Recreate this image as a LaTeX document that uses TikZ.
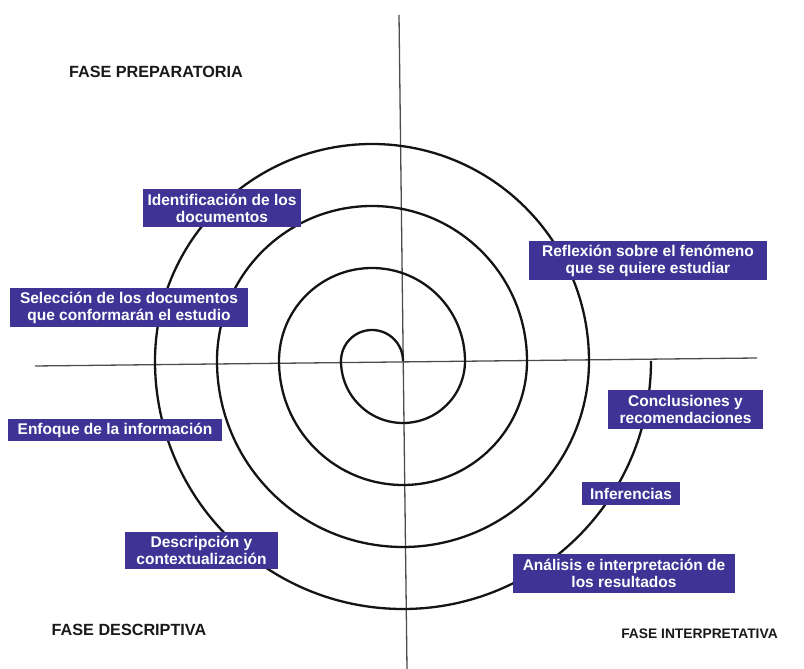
\documentclass[tikz,border=0pt]{standalone}
\usepackage{fontspec}
\setmainfont{Liberation Sans}
\definecolor{boxblue}{RGB}{63,52,150}
\begin{document}
\begin{tikzpicture}[x=1pt,y=1pt,
  lbl/.style={fill=boxblue, text=white, font=\fontsize{15.5}{17}\selectfont\bfseries, align=center, inner sep=0pt},
  phase/.style={font=\fontsize{16.2}{18}\selectfont\bfseries, text=black!90, inner sep=0pt},
  axis/.style={draw=black!70, line width=1.3pt},
  spiral/.style={draw=black!92, line width=2.3pt}]
\useasboundingbox (0,0) rectangle (804,669);
% axes
\coordinate (hl) at (35,303);
\coordinate (hr) at (757,311);
\coordinate (vt) at (399,654);
\coordinate (vb) at (407,0);
\draw[axis] (hl) -- (hr);
\draw[axis] (vt) -- (vb);
% spiral
\coordinate (s0) at (403,308);
\draw[spiral] (s0)
  arc[start angle=0, end angle=180, radius=31]
  arc[start angle=180, end angle=360, radius=62]
  arc[start angle=0, end angle=180, radius=93]
  arc[start angle=180, end angle=360, radius=124]
  arc[start angle=0, end angle=180, radius=155]
  arc[start angle=180, end angle=360, radius=186]
  arc[start angle=0, end angle=180, radius=217]
  arc[start angle=180, end angle=360, radius=248];
% labels
\node[lbl, minimum width=158, minimum height=38] (ident) at (222,461) {Identificación de los\\documentos};
\node[lbl, minimum width=238, minimum height=39] (refl) at (648,408.5) {Reflexión sobre el fenómeno\\que se quiere estudiar};
\node[lbl, minimum width=238, minimum height=39] (selec) at (129,361.5) {Selección de los documentos\\que conformarán el estudio};
\node[lbl, minimum width=155, minimum height=39] (concl) at (685.5,259.5) {Conclusiones y\\recomendaciones};
\node[lbl, minimum width=214, minimum height=22] (enfo) at (115,239) {Enfoque de la información};
\node[lbl, minimum width=98, minimum height=23] (infer) at (631,175.5) {Inferencias};
\node[lbl, minimum width=222, minimum height=39] (anal) at (624,95.5) {Análisis e interpretación de\\los resultados};
\node[lbl, minimum width=153, minimum height=37] (desc) at (201.5,118.5) {Descripción y\\contextualización};
% phases
\node[phase] (fp) at (156,597) {FASE PREPARATORIA};
\node[phase] (fd) at (129,39) {FASE DESCRIPTIVA};
\node[phase, font=\fontsize{13.8}{16}\selectfont\bfseries] (fi) at (699.5,35) {FASE INTERPRETATIVA};
\end{tikzpicture}
\end{document}
